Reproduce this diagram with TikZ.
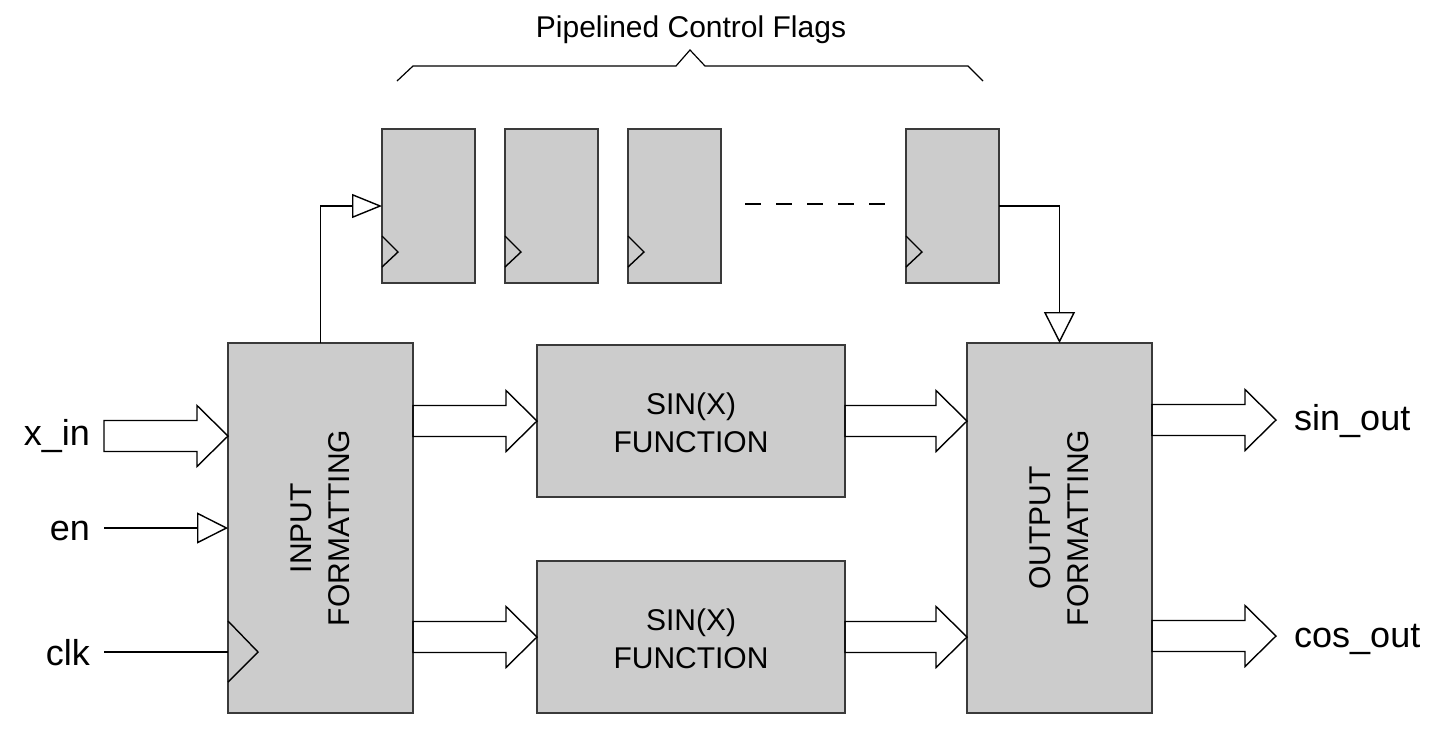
\documentclass[tikz,border=0pt]{standalone}
\usepackage{fontspec}
\setmainfont{Liberation Sans}
\usetikzlibrary{arrows.meta,calc}
\definecolor{boxgray}{HTML}{CCCCCC}
\definecolor{edgegray}{HTML}{3A3A3A}
\newcommand\fatarw[2]{%
  \draw[fat] let \p1=(#1), \p2=(#2) in
    (\x1,\y1+15.5pt) -- (\x2-31pt,\y1+15.5pt) -- (\x2-31pt,\y1+30.5pt) -- (\x2,\y1)
    -- (\x2-31pt,\y1-30.5pt) -- (\x2-31pt,\y1-15.5pt) -- (\x1,\y1-15.5pt) -- cycle;}
\begin{document}
\begin{tikzpicture}[x=1pt,y=-1pt,
  box/.style={draw=edgegray, fill=boxgray, line width=1.4pt, inner sep=0pt, outer sep=0pt, anchor=north west},
  wire/.style={draw=black, line width=1.4pt},
  fat/.style={draw=black, line width=1.4pt, line join=miter},
  lbl/.style={font=\fontsize{36}{40}\selectfont, inner sep=0pt},
  btxt/.style={font=\fontsize{30}{38}\selectfont, align=center, inner sep=0pt},
  bigtri/.style={-{Triangle[open, length=31pt, width=31pt]}},
  smalltri/.style={-{Triangle[open, length=30pt, width=24pt]}},
  clocktri/.style={draw=black, line width=1.4pt}
]
\useasboundingbox (0,0) rectangle (1444,740);

% boxes
\node[box, minimum width=185pt, minimum height=370pt] (inf) at (228,343) {};
\node[box, minimum width=185pt, minimum height=370pt] (outf) at (967,343) {};
\node[box, minimum width=308pt, minimum height=152pt] (sin1) at (537,345) {};
\node[box, minimum width=308pt, minimum height=152pt] (sin2) at (537,561) {};
\node[box, minimum width=93pt, minimum height=154pt] (ff1) at (382,129) {};
\node[box, minimum width=93pt, minimum height=154pt] (ff2) at (505,129) {};
\node[box, minimum width=93pt, minimum height=154pt] (ff3) at (628,129) {};
\node[box, minimum width=93pt, minimum height=154pt] (ff4) at (906,129) {};

% box texts
\node[btxt, rotate=90] (inftxt) at (inf.center) {INPUT\\FORMATTING};
\node[btxt, rotate=90] (outftxt) at (outf.center) {OUTPUT\\FORMATTING};
\node[btxt] (sin1txt) at ($(sin1.center)+(0,2)$) {SIN(X)\\FUNCTION};
\node[btxt] (sin2txt) at ($(sin2.center)+(0,2)$) {SIN(X)\\FUNCTION};

% clock triangles
\foreach \f in {ff1,ff2,ff3,ff4}{
  \draw[clocktri] ($(\f.south west)+(0,-16)$) -- ++(16,-15) -- ++(-16,-16);
}
\draw[clocktri] ($(inf.south west)+(0,-31)$) -- ++(30,-30) -- ++(-30,-31);

% inputs
\coordinate (xin) at (104,436);
\coordinate (enc) at (104,528);
\coordinate (clkc) at (104,652);
\fatarw{xin}{inf.west |- xin}
\draw[wire, bigtri] (enc) -- (inf.west |- enc);
\draw[wire] (clkc) -- (inf.west |- clkc);
\node[lbl, anchor=base east] (xinl) at (90,445) {x\_in};
\node[lbl, anchor=base east] (enl) at (90,540) {en};
\node[lbl, anchor=base east] (clkl) at (90,665) {clk};

% data path
\fatarw{inf.east |- sin1.west}{sin1.west}
\fatarw{inf.east |- sin2.west}{sin2.west}
\fatarw{sin1.east}{outf.west |- sin1.east}
\fatarw{sin2.east}{outf.west |- sin2.east}
\coordinate (sinend) at (1276,420);
\coordinate (cosend) at (1276,636);
\fatarw{outf.east |- sinend}{sinend}
\fatarw{outf.east |- cosend}{cosend}
\node[lbl, anchor=base west] (sinl) at (1294,430) {sin\_out};
\node[lbl, anchor=base west] (cosl) at (1294,647) {cos\_out};

% control flags
\draw[wire, smalltri] (inf.north) |- (ff1.west);
\draw[wire, bigtri] (ff4.east) -| (outf.north);
\coordinate (dA) at (745,204);
\coordinate (dB) at (885,204);
\draw[wire, dash pattern=on 16pt off 15pt] (dA) -- (dB);

% brace
\draw[line width=1.2pt] (397,81) -- (413,66) -- (676,66) -- (690,50) -- (705,66) -- (968,66) -- (983,81);
\node[font=\fontsize{30}{36}\selectfont, inner sep=0pt, anchor=base] (pcf) at (691,37) {Pipelined Control Flags};
\end{tikzpicture}
\end{document}
